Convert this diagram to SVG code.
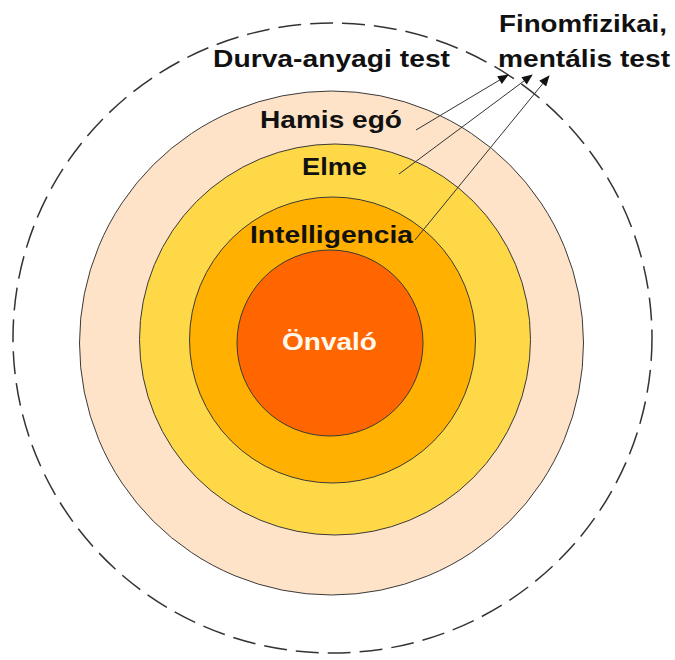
<svg xmlns="http://www.w3.org/2000/svg" width="675" height="660" viewBox="0 0 675 660">
  <style>
    .ring { stroke: #3a3a3a; stroke-width: 1; }
    .lbl { font-family: "Liberation Sans", Arial, sans-serif; font-weight: bold; font-size: 24px; fill: #111; }
    .wlbl { fill: #fff8ee; }
    .conn { stroke: #333; stroke-width: 1; fill: none; marker-end: url(#arr); }
  </style>
  <defs>
    <marker id="arr" viewBox="0 0 12 10" refX="11" refY="5" markerWidth="12" markerHeight="9" markerUnits="userSpaceOnUse" orient="auto">
      <path d="M0,0 L12,5 L0,10 z" fill="#111"/>
    </marker>
  </defs>
  <rect width="675" height="660" fill="#ffffff"/>

  <g id="durva-anyagi">
    <ellipse cx="332.5" cy="338" rx="319.5" ry="315" fill="none" stroke="#333" stroke-width="1.5" stroke-dasharray="23 9"/>
    <text class="lbl" x="213" y="67" textLength="237" lengthAdjust="spacingAndGlyphs">Durva-anyagi test</text>
  </g>

  <g id="hamis-ego">
    <circle class="ring" cx="331.5" cy="343" r="252" fill="#FEE3C8" stroke="#666"/>
  </g>
  <g id="elme">
    <circle class="ring" cx="335" cy="339.5" r="195.5" fill="#FFD848"/>
  </g>
  <g id="intelligencia">
    <circle class="ring" cx="332.5" cy="340" r="143" fill="#FFB000"/>
  </g>
  <g id="onvalo">
    <circle class="ring" cx="330" cy="343" r="93" fill="#FF6600"/>
    <text class="lbl wlbl" x="282" y="350" textLength="95" lengthAdjust="spacingAndGlyphs">Önvaló</text>
  </g>

  <g id="labels">
    <text class="lbl" x="260" y="128" textLength="142" lengthAdjust="spacingAndGlyphs">Hamis egó</text>
    <text class="lbl" x="302" y="175" textLength="65" lengthAdjust="spacingAndGlyphs">Elme</text>
    <text class="lbl" x="250" y="243" textLength="163" lengthAdjust="spacingAndGlyphs">Intelligencia</text>
  </g>

  <g id="finomfizikai">
    <text class="lbl" x="499" y="32" textLength="168" lengthAdjust="spacingAndGlyphs">Finomfizikai,</text>
    <text class="lbl" x="498" y="67" textLength="172" lengthAdjust="spacingAndGlyphs">mentális test</text>
  </g>

  <g id="connectors">
    <line class="conn" x1="416" y1="130" x2="508" y2="75"/>
    <line class="conn" x1="399" y1="174" x2="532" y2="75"/>
    <line class="conn" x1="415" y1="240" x2="549" y2="76"/>
  </g>
</svg>
